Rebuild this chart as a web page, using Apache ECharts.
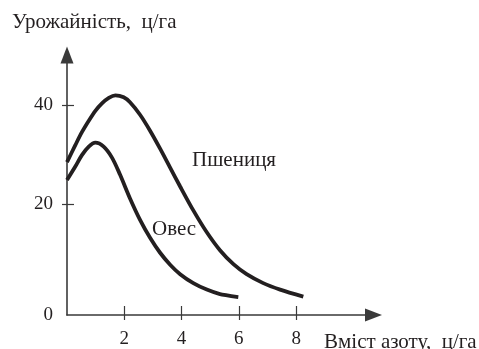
<!DOCTYPE html>
<html>
<head>
<meta charset="utf-8">
<script src="https://cdn.jsdelivr.net/npm/echarts@6/dist/echarts.min.js"></script>
<style>
  html, body { margin: 0; padding: 0; background: #ffffff; }
  #chart { width: 479px; height: 349px; }
</style>
</head>
<body>
<div id="chart"></div>
<script>
// Nitrogen content (ц/га) and yield (ц/га) for wheat
const wheatNitrogen = [0, 0.29, 0.52, 0.76, 0.99, 1.22, 1.46, 1.69, 1.98, 2.2, 2.55, 2.9, 3.25, 3.6, 3.95, 4.41, 4.88, 5.34, 5.81, 6.27, 6.85, 7.44, 8.25];
const wheatYield    = [28.5, 31.9, 34.5, 36.8, 38.8, 40.3, 41.4, 41.9, 41.5, 40.5, 38.0, 34.8, 31.2, 27.4, 23.6, 18.8, 14.4, 10.8, 8.0, 6.0, 4.2, 2.9, 1.5];

// Nitrogen content (ц/га) and yield (ц/га) for oats
const oatsNitrogen = [0, 0.29, 0.52, 0.76, 0.99, 1.28, 1.57, 1.85, 2.2, 2.55, 2.9, 3.25, 3.6, 3.95, 4.41, 4.88, 5.34, 5.98];
const oatsYield    = [24.9, 27.6, 29.9, 31.6, 32.4, 31.6, 29.4, 26.0, 21.2, 16.9, 13.3, 10.3, 7.9, 6.0, 4.2, 2.9, 2.0, 1.4];

const xTicks = [2, 4, 6, 8];
const yTicks = [20, 40];
const yZeroLabel = '0';

const X_MIN = 0, X_MAX = 10.7;
const Y_MIN = -2.2, Y_MAX = 50;

const INK = '#231f20';
const AXIS = '#3a3a3a';
const FONT = "'Liberation Serif', 'Times New Roman', serif";
const FS_NUM = 19;
const FS_TEXT = 21;

function pairs(xs, ys) { return xs.map((x, i) => [x, ys[i]]); }

const chart = echarts.init(document.getElementById('chart'), null, { renderer: 'canvas' });

const baseX = {
  type: 'value', min: X_MIN, max: X_MAX,
  splitLine: { show: false }
};
const baseY = {
  type: 'value', min: Y_MIN, max: Y_MAX,
  splitLine: { show: false }
};
const textStyle = { fontFamily: FONT, fontSize: FS_TEXT, fontWeight: 'normal', color: INK };

chart.setOption({
  animation: false,
  backgroundColor: '#ffffff',
  grid: { left: 67, top: 55, right: 105.5, bottom: 30.7, containLabel: false },
  title: [
    { text: 'Урожайність,  ц/га', left: 7, top: 7, textStyle: textStyle },
    { text: 'Пшениця', left: 187, top: 145, textStyle: textStyle },
    { text: 'Овес', left: 147, top: 214, textStyle: textStyle },
    { text: 'Вміст азоту,  ц/га', left: 319, top: 327, textStyle: textStyle }
  ],
  xAxis: [
    Object.assign({}, baseX, {
      axisLine: { show: true, onZero: false, symbol: ['none', 'triangle'], symbolSize: [13, 17],
                  lineStyle: { color: AXIS, width: 1.6 } },
      axisTick: { show: true, inside: false, length: 5, customValues: xTicks,
                  lineStyle: { color: AXIS, width: 1.2 } },
      axisLabel: { show: true, margin: 15, customValues: xTicks,
                   fontFamily: FONT, fontSize: FS_NUM, color: INK }
    }),
    Object.assign({}, baseX, {
      position: 'bottom',
      axisLine: { show: false, onZero: false },
      axisTick: { show: true, inside: true, length: 9, customValues: xTicks,
                  lineStyle: { color: AXIS, width: 1.2 } },
      axisLabel: { show: false }
    })
  ],
  yAxis: [
    Object.assign({}, baseY, {
      axisLine: { show: true, onZero: false, symbol: ['none', 'triangle'], symbolSize: [13, 17],
                  lineStyle: { color: AXIS, width: 1.6 } },
      axisTick: { show: true, inside: false, length: 5, customValues: yTicks,
                  lineStyle: { color: AXIS, width: 1.2 } },
      axisLabel: { show: true, margin: 14, customValues: [Y_MIN].concat(yTicks),
                   formatter: v => (v === Y_MIN ? yZeroLabel : String(v)),
                   fontFamily: FONT, fontSize: FS_NUM, color: INK }
    }),
    Object.assign({}, baseY, {
      position: 'left',
      axisLine: { show: false, onZero: false },
      axisTick: { show: true, inside: true, length: 7, customValues: yTicks,
                  lineStyle: { color: AXIS, width: 1.2 } },
      axisLabel: { show: false }
    })
  ],
  series: [
    {
      name: 'Пшениця', type: 'line', xAxisIndex: 0, yAxisIndex: 0,
      data: pairs(wheatNitrogen, wheatYield),
      smooth: 0.3, showSymbol: false, symbol: 'none',
      lineStyle: { color: INK, width: 3.8, cap: 'butt' }
    },
    {
      name: 'Овес', type: 'line', xAxisIndex: 0, yAxisIndex: 0,
      data: pairs(oatsNitrogen, oatsYield),
      smooth: 0.3, showSymbol: false, symbol: 'none',
      lineStyle: { color: INK, width: 3.8, cap: 'butt' }
    }
  ]
});
</script>
</body>
</html>
